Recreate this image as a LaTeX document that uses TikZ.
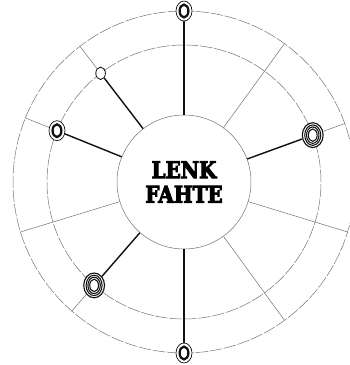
\documentclass[tikz,border=0pt]{standalone}
\usepackage{fontspec}
\usetikzlibrary{shapes.geometric, positioning, calc}
\newfontfamily\hubfont{DejaVu Serif}[UprightFont=* Bold, UprightFeatures={FakeBold=4}, FakeStretch=0.86]
\definecolor{inkA}{HTML}{111111}
\definecolor{wireG}{HTML}{707070}

\begin{document}
\begin{tikzpicture}[
  ring/.style={
    draw=wireG, line width=0.35pt,
    dash pattern=on 9pt off 1.2pt
  },
  wire/.style={draw=wireG, line width=0.35pt},
  link/.style={draw=inkA, line width=1pt},
  hub/.style={
    circle, draw=wireG, line width=0.35pt, fill=white,
    minimum size=3.35cm, inner sep=0pt, align=center,
    font=\hubfont\fontsize{16.5}{17.5}\selectfont
  },
  hole/.style={
    ellipse, draw=inkA, fill=white, line width=0.6pt,
    minimum width=0.24cm, minimum height=0.31cm, inner sep=0pt
  },
  eyelet/.style={
    ellipse, draw=inkA, fill=white, line width=0.5pt,
    minimum width=0.4cm, minimum height=0.5cm, inner sep=0pt,
    path picture={
      \draw[inkA, line width=1.6pt] (path picture bounding box.center)
        ellipse [x radius=0.11cm, y radius=0.16cm];
    }
  },
  coil/.style={
    ellipse, draw=inkA, fill=white, line width=0.8pt,
    minimum width=0.52cm, minimum height=0.62cm, inner sep=0pt,
    path picture={
      \foreach \rx/\ry in {0.2/0.255, 0.155/0.205, 0.11/0.155}
        \draw[inkA, line width=0.75pt] (path picture bounding box.center)
          ellipse [x radius=\rx cm, y radius=\ry cm];
    }
  },
]
\useasboundingbox (-4.6,-4.575) rectangle (4.15,4.55);

%% ═══ RINGS ═══
\draw[ring] (0,0) circle [radius=3.425cm];
\draw[ring] (0,0) circle [radius=4.275cm];

%% ═══ HUB ═══
\node[hub] (hub) at (0,0) {LENK\\FAHTE};

%% ═══ NODES ═══
\node[eyelet] (top) at (90:4.275) {};
\node[eyelet] (bot) at (270:4.275) {};
\node[eyelet] (lft) at (158:3.425) {};
\node[hole] (sml) at (127.5:3.425) {};
\node[coil] (rgt) at (20:3.425) {};
\node[coil] (llf) at (229:3.425) {};

%% ═══ OUTER POINTS ═══
\coordinate (o1) at (54:4.275);
\coordinate (o2) at (197:4.275);
\coordinate (o3) at (306:4.275);
\coordinate (o4) at (343:4.275);
\coordinate (o5) at (127.5:4.275);
\coordinate (o6) at (158:4.275);
\coordinate (o7) at (20:4.275);
\coordinate (o8) at (229:4.275);

%% ═══ THIN SPOKES ═══
\foreach \o in {o1,o2,o3,o4}
  \draw[wire] (hub) -- (\o);
\draw[wire] (sml) -- (o5);
\draw[wire] (lft) -- (o6);
\draw[wire] (rgt) -- (o7);
\draw[wire] (llf) -- (o8);

%% ═══ LINKS ═══
\foreach \n in {top,bot,lft,sml,rgt,llf}
  \draw[link] (hub) -- (\n);

\end{tikzpicture}
\end{document}
